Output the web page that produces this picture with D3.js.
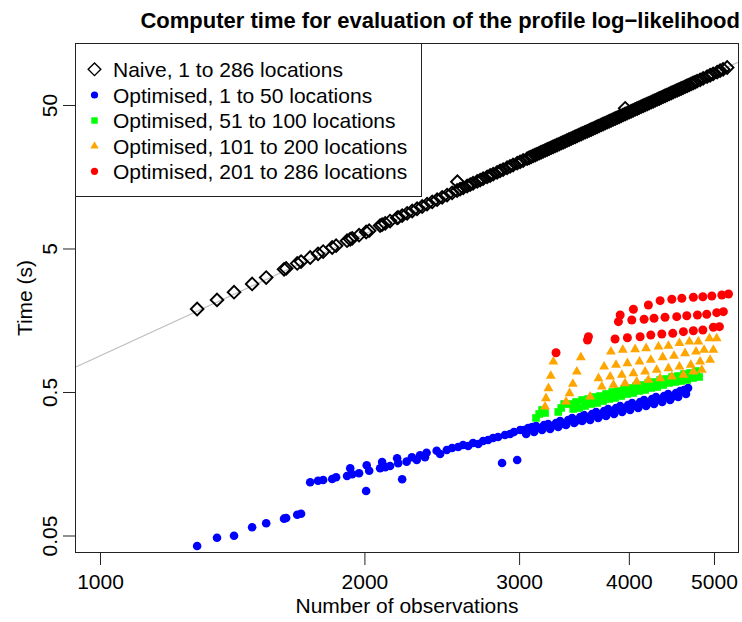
<!DOCTYPE html>
<html><head><meta charset="utf-8">
<script src="https://cdn.jsdelivr.net/npm/d3@7"></script>
<style>body{margin:0;background:#fff}text{font-family:"Liberation Sans",Arial,Helvetica,sans-serif;fill:#000}</style>
</head><body><svg id="c" width="742" height="622"></svg>
<script>
const xTicks=[1000,2000,3000,4000,5000];
const yTicks=[0.05,0.5,5,50];
const xDomain=[936.6,5339];
const yDomain=[0.03776,135.2];
const fitLine=[[936,0.74],[5340,100]];
const legendLabels=["Naive, 1 to 286 locations","Optimised, 1 to 50 locations","Optimised, 51 to 100 locations","Optimised, 101 to 200 locations","Optimised, 201 to 286 locations"];
const naive=[[1290,1.894],[1359,2.192],[1421,2.482],[1490,2.831],[1546,3.137],[1620,3.578],[1629,3.630],[1677,3.935],[1694,4.051],[1735,4.327],[1771,4.587],[1795,4.758],[1838,5.082],[1857,5.233],[1911,5.671],[1927,5.797],[1937,5.882],[1972,6.191],[2009,6.516],[2025,6.660],[2084,7.218],[2095,7.324],[2112,7.487],[2139,7.766],[2179,8.173],[2185,8.233],[2208,8.478],
[2237,8.793],[2267,9.120],[2296,9.460],[2327,9.812],[2357,10.178],[2389,10.557],[2420,10.950],[2452,11.358],[2484,11.780],[2517,12.219],
[2550,12.674],[2552,14.6],[2570,12.955],[2591,13.242],[2618,13.635],[2639,13.937],[2659,14.246],[2688,14.670],[2709,14.995],[2730,15.328],[2759,15.782],[2781,16.132],[2803,16.490],[2832,16.979],[2854,17.355],[2877,17.740],[2907,18.267],[2930,18.672],[2953,19.086],[2985,19.653],[3008,20.089],[3032,20.534],
[3064,21.143],[3080,21.454],[3096,21.770],[3112,22.091],[3129,22.416],[3145,22.747],[3162,23.082],[3178,23.422],[3195,23.767],[3212,24.117],[3229,24.472],[3246,24.832],[3263,25.198],[3280,25.569],[3297,25.946],[3314,26.328],[3332,26.716],[3349,27.109],[3367,27.509],[3385,27.914],[3402,28.326],[3420,28.743],[3438,29.167],[3456,29.596],[3475,30.032],[3493,30.474],[3511,30.923],[3530,31.378],[3548,31.841],[3567,32.310],[3586,32.785],[3605,33.268],[3624,33.758],[3643,34.255],[3662,34.760],[3681,35.272],[3700,35.792],[3720,36.319],[3739,36.854],[3759,37.396],[3779,37.947],[3799,38.506],[3819,39.073],[3839,39.649],[3859,40.233],[3879,40.826],[3899,41.427],[3920,42.038],[3940,42.657],[3961,43.285],[3962,47.4],[3982,43.922],[4003,44.569],[4024,45.225],[4045,45.892],[4066,46.567],[4088,47.254],[4109,47.950],[4131,48.656],[4153,49.373],[4174,50.100],[4196,50.838],[4218,51.587],[4241,52.347],[4263,53.118],[4285,53.900],[4308,54.694],[4331,55.500],[4353,56.317],[4376,57.147],[4399,57.988],[4422,58.842],[4446,59.709],[4469,60.588],[4492,61.481],[4516,62.386],[4540,63.305],[4564,64.237],[4588,65.184],[4612,66.144],[4636,67.118],[4660,68.107],[4685,69.110],[4709,70.128],[4734,71.161],[4759,72.209],[4784,73.273],[4822,74.898],[4860,76.559],[4911,78.830],[4950,80.578],[4989,82.365],[5042,84.810],[5081,86.691],[5121,88.613],[5176,91.242]];
const opt1to50=[[1290,0.04224],[1359,0.04828],[1421,0.04983],[1490,0.05703],[1546,0.06081],[1620,0.0655],[1629,0.06622],[1677,0.06982],[1694,0.07096],[1735,0.1174],[1771,0.1205],[1795,0.1218],[1838,0.1238],[1857,0.1272],[1911,0.1299],[1927,0.147],[1937,0.1335],[1972,0.1356],[2009,0.1021],[2012,0.1542],[2025,0.1414],[2084,0.147],[2095,0.1627],[2112,0.1497],[2139,0.1525],[2179,0.1726],[2185,0.1593],[2208,0.1232],
[2234,0.1635],[2265,0.1754],[2294,0.168],[2314,0.1811],[2344,0.1754],[2354,0.1888],[2417,0.195],[2439,0.1849],[2482,0.1972],[2517,0.2036],[2557,0.2069],[2590,0.2136],[2625,0.2102],[2659,0.2206],[2695,0.2171],[2730,0.2278],[2766,0.2315],[2802,0.2391],[2839,0.2429],[2869,0.1601],[2891,0.2508],[2930,0.2549],[2960,0.2632],[2985,0.168],[3009,0.2718],[3040,0.2718],[3072,0.2807],[3104,0.2853],[3136,0.2899],[3170,0.2807],[3203,0.2946],[3237,0.2994],[3271,0.2899],[3305,0.3042],[3341,0.3141],[3376,0.2994],[3412,0.3192],[3448,0.3296],[3483,0.3141],[3521,0.3349],[3557,0.3458],[3595,0.3296],[3633,0.3514],[3671,0.3629],[3710,0.3458],[3749,0.3687],[3789,0.3807],[3829,0.3629],[3868,0.3869],[3910,0.3995],[3950,0.3807],[3992,0.406],[4034,0.4192],[4076,0.3995],[4120,0.426],[4163,0.4399],[4207,0.4192],[4251,0.4469],[4295,0.4615],[4342,0.4399],[4387,0.469],[4434,0.4843],[4480,0.4615],[4526,0.4921],[4576,0.5082],[4623,0.5164],[4672,0.5333],
[3056,0.2549],[3120,0.2632],[3186,0.2718],[3254,0.2763],[3324,0.2853],[3393,0.2946],[3466,0.3042],[3539,0.3141],[3614,0.3192],[3691,0.3296],[3768,0.3403],[3848,0.3514],[3930,0.3629],[4013,0.3747],[4099,0.3869],[4185,0.3995],[4273,0.4125],[4365,0.426],[4457,0.4399],[4552,0.4615],[4647,0.4843]];
const opt51to100=[[3136,0.3296],[3162,0.3514],[3186,0.3747],[3211,0.3571],[3324,0.3629],[3350,0.3869],[3376,0.4125],
[3430,0.4125],[3483,0.426],[3539,0.4399],[3595,0.4469],[3652,0.4615],[3710,0.469],[3768,0.4843],[3829,0.5001],[3889,0.5082],[3950,0.5248],[4013,0.5333],[4076,0.5506],[4142,0.5595],[4207,0.5778],[4273,0.5872],[4342,0.6063],[4410,0.6161],[4480,0.6362],[4552,0.6465],[4623,0.6675],[4697,0.6783],[4770,0.7005],
[3457,0.3807],[3511,0.3869],[3566,0.3995],[3624,0.4125],[3681,0.4192],[3739,0.4329],[3799,0.4469],[3858,0.4542],[3920,0.469],[3982,0.4843],[4045,0.4921],[4109,0.5082],[4174,0.5164],[4240,0.5333],[4308,0.5419],[4376,0.5595],[4445,0.5778],[4515,0.5872],[4588,0.5966],[4660,0.6063],[4733,0.626],[4809,0.6362]];
const opt101to200=[[3211,0.3951],[3219,0.452],[3240,0.5307],[3260,0.6465],[3282,0.8131],
[3393,0.4281],[3424,0.4898],[3454,0.5686],[3490,0.6927],[3527,0.8726],
[3816,0.9546],[3937,0.981],[4066,0.9923],[4185,1.008],[4323,1.035],[4437,1.046],[4567,1.093],[4688,1.121],[4800,1.121],[4941,1.183],[5036,1.183],
[3749,0.7504],[3868,0.7712],[3985,0.7925],[4113,0.8131],[4237,0.8356],[4372,0.8726],[4503,0.8909],[4635,0.9304],[4770,0.9546],[4872,0.981],[4992,0.981],
[3694,0.623],[3809,0.6392],[3927,0.6569],[4048,0.6751],[4174,0.6927],[4303,0.7118],[4437,0.7314],[4567,0.7504],[4705,0.7712],[4822,0.8131],[4950,0.8356],
[3614,0.4638],[3726,0.5445],[3842,0.5595],[3960,0.575],[4083,0.59],[4210,0.6063],[4342,0.623],[4477,0.6392],[4615,0.6569],[4737,0.6927],[4843,0.7118]];
const opt201to286=[[3305,0.9394],[3589,1.152],[3598,1.214],
[4048,1.885],[4210,2.019],[4342,2.164],[4477,2.213],[4596,2.249],[4737,2.285],[4856,2.307],[4972,2.333],[5104,2.371],[5194,2.409],
[3910,1.72],[3892,1.545],[4031,1.588],[4163,1.606],[4273,1.632],[4398,1.658],[4535,1.674],[4656,1.701],[4788,1.72],[4906,1.74],[5036,1.785],[5125,1.814],
[3858,1.17],[3985,1.195],[4120,1.214],[4237,1.248],[4361,1.268],[4488,1.282],[4615,1.316],[4737,1.337],[4856,1.352],[4992,1.412],[5072,1.426]];

const svg=d3.select("#c");
const P={l:75,r:739,t:43,b:553};
const x=d3.scaleLog().domain(xDomain).range([P.l,P.r]);
const y=d3.scaleLog().domain(yDomain).range([P.b,P.t]);
const FS=21;

svg.append("text").attr("x",740).attr("y",28).attr("text-anchor","end")
  .attr("font-weight","bold").attr("font-size",22)
  .text("Computer time for evaluation of the profile log\u2212likelihood");

svg.append("defs").append("clipPath").attr("id","pc").append("rect")
  .attr("x",P.l).attr("y",P.t).attr("width",P.r-P.l).attr("height",P.b-P.t);
const g=svg.append("g").attr("clip-path","url(#pc)");
g.append("path").datum(fitLine)
  .attr("d",d3.line().x(d=>x(d[0])).y(d=>y(d[1])))
  .attr("fill","none").attr("stroke","#bebebe").attr("stroke-width",1.2);

const diamond=d3.symbol(d3.symbolSquare,80)();
g.selectAll(".nv").data(naive).join("path")
  .attr("d",diamond)
  .attr("transform",d=>`translate(${x(d[0])},${y(d[1])}) rotate(45)`)
  .attr("fill","none").attr("stroke","#000").attr("stroke-width",1.9);

g.selectAll(".b").data(opt1to50).join("circle")
  .attr("cx",d=>x(d[0])).attr("cy",d=>y(d[1])).attr("r",4.3).attr("fill","#0000ff");
g.selectAll(".gr").data(opt51to100).join("rect")
  .attr("x",d=>x(d[0])-3.8).attr("y",d=>y(d[1])-3.8).attr("width",7.6).attr("height",7.6).attr("fill","#00ff00");
const tri=d3.symbol(d3.symbolTriangle,42)();
g.selectAll(".o").data(opt101to200).join("path")
  .attr("d",tri).attr("transform",d=>`translate(${x(d[0])},${y(d[1])})`).attr("fill","#ffa500");
g.selectAll(".r").data(opt201to286).join("circle")
  .attr("cx",d=>x(d[0])).attr("cy",d=>y(d[1])).attr("r",4.5).attr("fill","#ff0000");

const ax=svg.append("g").attr("transform",`translate(0,${P.b})`)
  .call(d3.axisBottom(x).tickValues(xTicks).tickFormat(d3.format("d")).tickSize(12).tickPadding(9));
ax.select(".domain").remove();
ax.selectAll("text").attr("font-size",FS).attr("font-family","Liberation Sans, Arial, sans-serif");
ax.selectAll("line").attr("stroke","#222");

const ay=svg.append("g").attr("transform",`translate(${P.l},0)`)
  .call(d3.axisLeft(y).tickValues(yTicks).tickFormat(d=>String(d)).tickSize(12));
ay.select(".domain").remove();
ay.selectAll("line").attr("stroke","#222");
ay.selectAll("text").attr("font-size",FS).attr("font-family","Liberation Sans, Arial, sans-serif")
  .attr("x",null).attr("dy",null).attr("text-anchor","middle")
  .attr("transform","translate(-18,0) rotate(-90)");

svg.append("rect").attr("x",P.l+0.5).attr("y",P.t+0.5).attr("width",P.r-P.l-1).attr("height",P.b-P.t-1)
  .attr("fill","none").attr("stroke","#222").attr("stroke-width",1);

svg.append("text").attr("x",(P.l+P.r)/2).attr("y",613).attr("text-anchor","middle").attr("font-size",FS).text("Number of observations");
svg.append("text").attr("transform","translate(32,298) rotate(-90)").attr("text-anchor","middle").attr("font-size",FS).text("Time (s)");

const L=svg.append("g");
L.append("rect").attr("x",P.l+0.5).attr("y",P.t+0.5).attr("width",346).attr("height",153)
  .attr("fill","#fff").attr("stroke","#222");
const rows=[69.3,95,120.5,146,171.3];
const lx=94.5;
L.append("path").attr("d",diamond).attr("transform",`translate(${lx},${rows[0]}) rotate(45)`).attr("fill","none").attr("stroke","#000").attr("stroke-width",1.4);
L.append("circle").attr("cx",lx).attr("cy",rows[1]).attr("r",3.6).attr("fill","#0000ff");
L.append("rect").attr("x",lx-3.2).attr("y",rows[2]-3.2).attr("width",6.4).attr("height",6.4).attr("fill","#00ff00");
L.append("path").attr("d",d3.symbol(d3.symbolTriangle,30)()).attr("transform",`translate(${lx},${rows[3]})`).attr("fill","#ffa500");
L.append("circle").attr("cx",lx).attr("cy",rows[4]).attr("r",3.6).attr("fill","#ff0000");
L.selectAll(".lt").data(legendLabels).join("text")
  .attr("x",113).attr("y",(d,i)=>rows[i]).attr("dy","0.36em").attr("font-size",FS).text(d=>d);
</script></body></html>
